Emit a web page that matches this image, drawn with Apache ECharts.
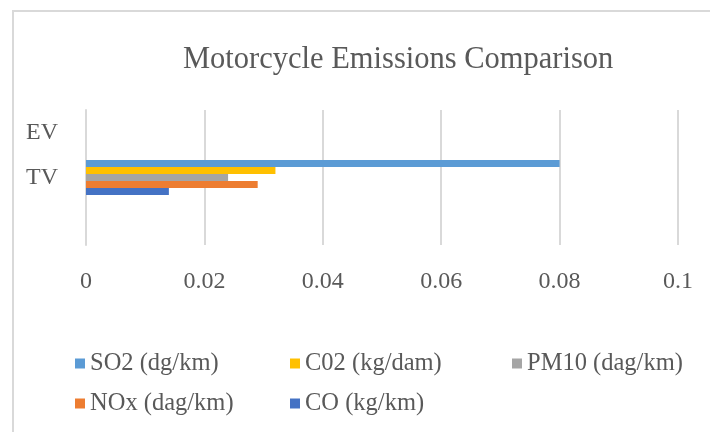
<!DOCTYPE html>
<html>
<head>
<meta charset="utf-8">
<script src="https://cdn.jsdelivr.net/npm/echarts@6/dist/echarts.min.js"></script>
<style>html,body{margin:0;padding:0;background:#fff;}#c{width:710px;height:432px;}</style>
</head>
<body>
<div id="c"></div>
<script>
var categories = ['', 'TV', 'EV'];
var seriesNames = ['SO2 (dg/km)', 'C02 (kg/dam)', 'PM10 (dag/km)', 'NOx (dag/km)', 'CO (kg/km)'];
var so2 = [null, 0.08, 0];
var co2 = [null, 0.032, 0];
var pm10 = [null, 0.024, 0];
var nox = [null, 0.029, 0];
var co = [null, 0.014, 0];
var xTicks = [0, 0.02, 0.04, 0.06, 0.08, 0.1];

var values = [so2, co2, pm10, nox, co];
var colors = ['#5B9BD5', '#FFC000', '#A5A5A5', '#ED7D31', '#4472C4'];
var font = '"Liberation Serif", "Times New Roman", serif';
var textColor = '#595959';

var chart = echarts.init(document.getElementById('c'), null, {renderer: 'canvas'});

var legendPos = [[75, 351], [290, 351], [512, 351], [75, 391], [290, 391]];
var legends = seriesNames.map(function (n, i) {
  return {
    data: [n],
    left: legendPos[i][0],
    top: legendPos[i][1],
    padding: 0,
    icon: 'rect',
    itemWidth: 10,
    itemHeight: 10,
    selectedMode: false,
    textStyle: {fontFamily: font, fontSize: 24.5, color: textColor}
  };
});

chart.setOption({
  animation: false,
  color: colors,
  title: {
    text: 'Motorcycle Emissions Comparison',
    left: 183,
    top: 44,
    padding: 0,
    textStyle: {fontFamily: font, fontSize: 30.5, fontWeight: 'normal', color: textColor}
  },
  graphic: [{
    type: 'rect',
    shape: {x: 13, y: 11, width: 800, height: 500},
    style: {fill: 'none', stroke: '#d9d9d9', lineWidth: 2},
    silent: true
  }],
  legend: legends,
  grid: {left: 86, right: 32, top: 110, bottom: 187},
  xAxis: {
    type: 'value',
    min: xTicks[0],
    max: xTicks[xTicks.length - 1],
    interval: 0.02,
    axisLine: {show: false},
    axisTick: {show: false},
    splitLine: {show: true, lineStyle: {color: '#d9d9d9', width: 2}},
    axisLabel: {fontFamily: font, fontSize: 24, color: textColor, margin: 25}
  },
  yAxis: {
    type: 'category',
    data: categories,
    axisLine: {show: true, lineStyle: {color: '#d9d9d9', width: 2}},
    axisTick: {show: false},
    axisLabel: {fontFamily: font, fontSize: 24, color: textColor, margin: 28}
  },
  series: seriesNames.map(function (n, i) {
    return {
      name: n,
      type: 'bar',
      data: values[i],
      barWidth: 7,
      barGap: '0%',
      itemStyle: {color: colors[i]}
    };
  })
});
</script>
</body>
</html>
